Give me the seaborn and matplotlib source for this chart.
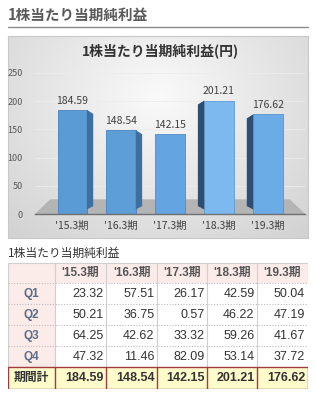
import numpy as np
import pandas as pd
import matplotlib
matplotlib.use("Agg")
import matplotlib.pyplot as plt
import seaborn as sns
from matplotlib.patches import Rectangle, Polygon
from matplotlib.lines import Line2D

# ---- data ----
periods = ["'15.3期", "'16.3期", "'17.3期", "'18.3期", "'19.3期"]
q_labels = ["Q1", "Q2", "Q3", "Q4"]
q1 = [23.32, 57.51, 26.17, 42.59, 50.04]
q2 = [50.21, 36.75, 0.57, 46.22, 47.19]
q3 = [64.25, 42.62, 33.32, 59.26, 41.67]
q4 = [47.32, 11.46, 82.09, 53.14, 37.72]
totals = [184.59, 148.54, 142.15, 201.21, 176.62]
total_label = "期間計"
yticks = [0, 50, 100, 150, 200, 250]
page_title = "1株当たり当期純利益"
chart_title = "1株当たり当期純利益(円)"
table_caption = "1株当たり当期純利益"

sns.set_theme(style="white")
plt.rcParams['font.family'] = ['Noto Sans CJK JP', 'DejaVu Sans']

W, H = 316, 395
fig = plt.figure(figsize=(W / 100, H / 100), dpi=100)
fig.patch.set_facecolor("white")


def box(x0, y0, x1, y1):
    return [x0 / W, 1 - y1 / H, (x1 - x0) / W, (y1 - y0) / H]


# ---- page header ----
fig.text(8 / W, 1 - 15 / H, page_title, fontsize=10.5, fontweight="bold",
         color="#5a5a5a", va="center", ha="left")
fig.add_artist(Line2D([8 / W, 308 / W], [1 - 26.5 / H, 1 - 26.5 / H],
                      color="#8a8a8a", lw=1.0, transform=fig.transFigure))

# ---- chart panel background (gradient) ----
bg = fig.add_axes(box(8, 36, 308, 238))
ny, nx = 100, 150
yy, xx = np.mgrid[0:1:ny * 1j, 0:1:nx * 1j]
r = np.sqrt(((xx - 0.5) / 0.7) ** 2 + ((yy - 0.3) / 0.9) ** 2)
val = np.clip(0.98 - 0.15 * r, 0.81, 0.98)
img = np.dstack([val, val, val])
bg.imshow(img, aspect="auto", extent=[0, 1, 0, 1], origin="upper")
bg.set_xticks([]); bg.set_yticks([])
for s in bg.spines.values():
    s.set_color("#c8c8c8"); s.set_linewidth(0.8)

# ---- bar chart ----
ax = fig.add_axes(box(35, 73, 305, 214))
ax.patch.set_alpha(0)
df = pd.DataFrame({"period": periods, "value": totals})
bar_colors = ["#5b9bd5", "#5d9dd8", "#64a4e0", "#7db8ef", "#6babe6"]
side_colors = ["#3f6f9e", "#3f6f9e", "#40709f", "#2f4f72", "#2f4f72"]
edge_colors = ["#4a84bd", "#4a84bd", "#4f8cc8", "#5f9ad3", "#5592cd"]
sns.barplot(data=df, x="period", y="value", hue="period", palette=bar_colors,
            legend=False, width=0.6, ax=ax, zorder=3, saturation=1)
ax.set_xlim(-0.76, 4.76)
ax.set_ylim(0, 250)

# floor band
ax.add_patch(Polygon([(-0.76, 0), (4.76, 0), (4.45, 26), (-0.45, 26)],
                     closed=True, facecolor="#b4b4b4", edgecolor="none", zorder=1))

# faint gridlines
for t in yticks[1:]:
    ax.axhline(t, color="#ececec", lw=0.6, zorder=0.5)

d = 0.13
for i, p in enumerate(ax.patches[:len(totals)]):
    x0 = p.get_x(); w = p.get_width(); h = p.get_height()
    p.set_edgecolor(edge_colors[i]); p.set_linewidth(0.6)
    if i < 2:
        x1 = x0 + w
        ax.add_patch(Polygon([(x1, 8), (x1, h), (x1 + d, h - 7), (x1 + d, 14)],
                             closed=True, facecolor=side_colors[i],
                             edgecolor="none", zorder=3))
    elif i > 2:
        ax.add_patch(Polygon([(x0, 8), (x0, h), (x0 - d, h - 7), (x0 - d, 14)],
                             closed=True, facecolor=side_colors[i],
                             edgecolor="none", zorder=3))
    ax.text(x0 + w / 2, h + 16, f"{totals[i]:.2f}", ha="center", va="center",
            fontsize=7.5, color="#404040", zorder=5)

ax.set_yticks(yticks)
ax.set_yticklabels([str(t) for t in yticks], fontsize=6.5, color="#595959")
ax.tick_params(axis="y", length=0, pad=9)
ax.tick_params(axis="x", length=0, pad=5, labelsize=7.5, labelcolor="#404040")
ax.set_xlabel(""); ax.set_ylabel("")
for k in ["top", "right", "left"]:
    ax.spines[k].set_visible(False)
ax.spines["bottom"].set_color("#6f6f6f")
ax.spines["bottom"].set_linewidth(1.0)
ax.spines["bottom"].set_zorder(4)

fig.text(160 / W, 1 - 51 / H, chart_title, fontsize=10, fontweight="bold",
         color="#333333", ha="center", va="center")

# ---- table caption ----
fig.text(8 / W, 1 - 253 / H, table_caption, fontsize=8.5, color="#333333",
         ha="left", va="center")

# ---- table ----
tx = fig.add_axes(box(8, 262, 308, 389))
tx.set_xlim(8, 308)
tx.set_ylim(389, 262)
tx.axis("off")
col_edges = [8, 55, 106, 157, 207, 257, 307.5]
row_edges = [262.5, 283, 304, 325, 346, 367, 388.5]
pink = "#fbecea"
yellow = "#fffccc"
red = "#a33a3e"
grid = "#cfcfcf"
tfont = ['Liberation Sans', 'Noto Sans CJK JP']

rows = [q1, q2, q3, q4]
nrows = len(row_edges) - 1
ncols = len(col_edges) - 1
for ri in range(nrows):
    for ci in range(ncols):
        xa, xb = col_edges[ci], col_edges[ci + 1]
        ya, yb = row_edges[ri], row_edges[ri + 1]
        if ri == nrows - 1:
            fc = yellow
        elif ri == 0 or ci == 0:
            fc = pink
        else:
            fc = "white"
        tx.add_patch(Rectangle((xa, ya), xb - xa, yb - ya, facecolor=fc,
                               edgecolor="none", zorder=1))

# grid lines
for ce in col_edges:
    tx.plot([ce, ce], [row_edges[0], row_edges[-2]], color=grid, lw=0.8, zorder=2)
tx.plot([col_edges[0], col_edges[-1]], [row_edges[0]] * 2, color=grid, lw=0.8, zorder=2)
for re_ in row_edges[1:-2]:
    tx.plot([col_edges[0], col_edges[-1]], [re_, re_], color="#bdbdbd", lw=0.8,
            ls=(0, (1, 1.5)), zorder=2)
# total row red border
for ce in col_edges:
    tx.plot([ce, ce], [row_edges[-2], row_edges[-1]], color=red, lw=1.0, zorder=3)
for re_ in row_edges[-2:]:
    tx.plot([col_edges[0], col_edges[-1]], [re_, re_], color=red, lw=1.0, zorder=3)

def cy(ri):
    return (row_edges[ri] + row_edges[ri + 1]) / 2 + 0.5

# header
for ci, pname in enumerate(periods):
    xc = (col_edges[ci + 1] + col_edges[ci + 2]) / 2
    tx.text(xc, cy(0), pname, ha="center", va="center", fontsize=8.5,
            fontweight="bold", color="#555555", family=tfont, zorder=4)
# Q rows
for qi, (ql, vals) in enumerate(zip(q_labels, rows)):
    ri = qi + 1
    tx.text((col_edges[0] + col_edges[1]) / 2, cy(ri), ql, ha="center", va="center",
            fontsize=8.5, fontweight="bold", color="#5d6c88", family=tfont, zorder=4)
    for ci, v in enumerate(vals):
        tx.text(col_edges[ci + 2] - 2.5, cy(ri), f"{v:.2f}", ha="right", va="center",
                fontsize=9, color="#333333", family=tfont, zorder=4)
# total row
ri = nrows - 1
tx.text((col_edges[0] + col_edges[1]) / 2, cy(ri), total_label, ha="center",
        va="center", fontsize=8.5, fontweight="bold", color="#333333",
        family=tfont, zorder=4)
for ci, v in enumerate(totals):
    tx.text(col_edges[ci + 2] - 2.5, cy(ri), f"{v:.2f}", ha="right", va="center",
            fontsize=9, fontweight="bold", color="#333333", family=tfont, zorder=4)

fig.savefig("out.png", dpi=100, facecolor="white")
